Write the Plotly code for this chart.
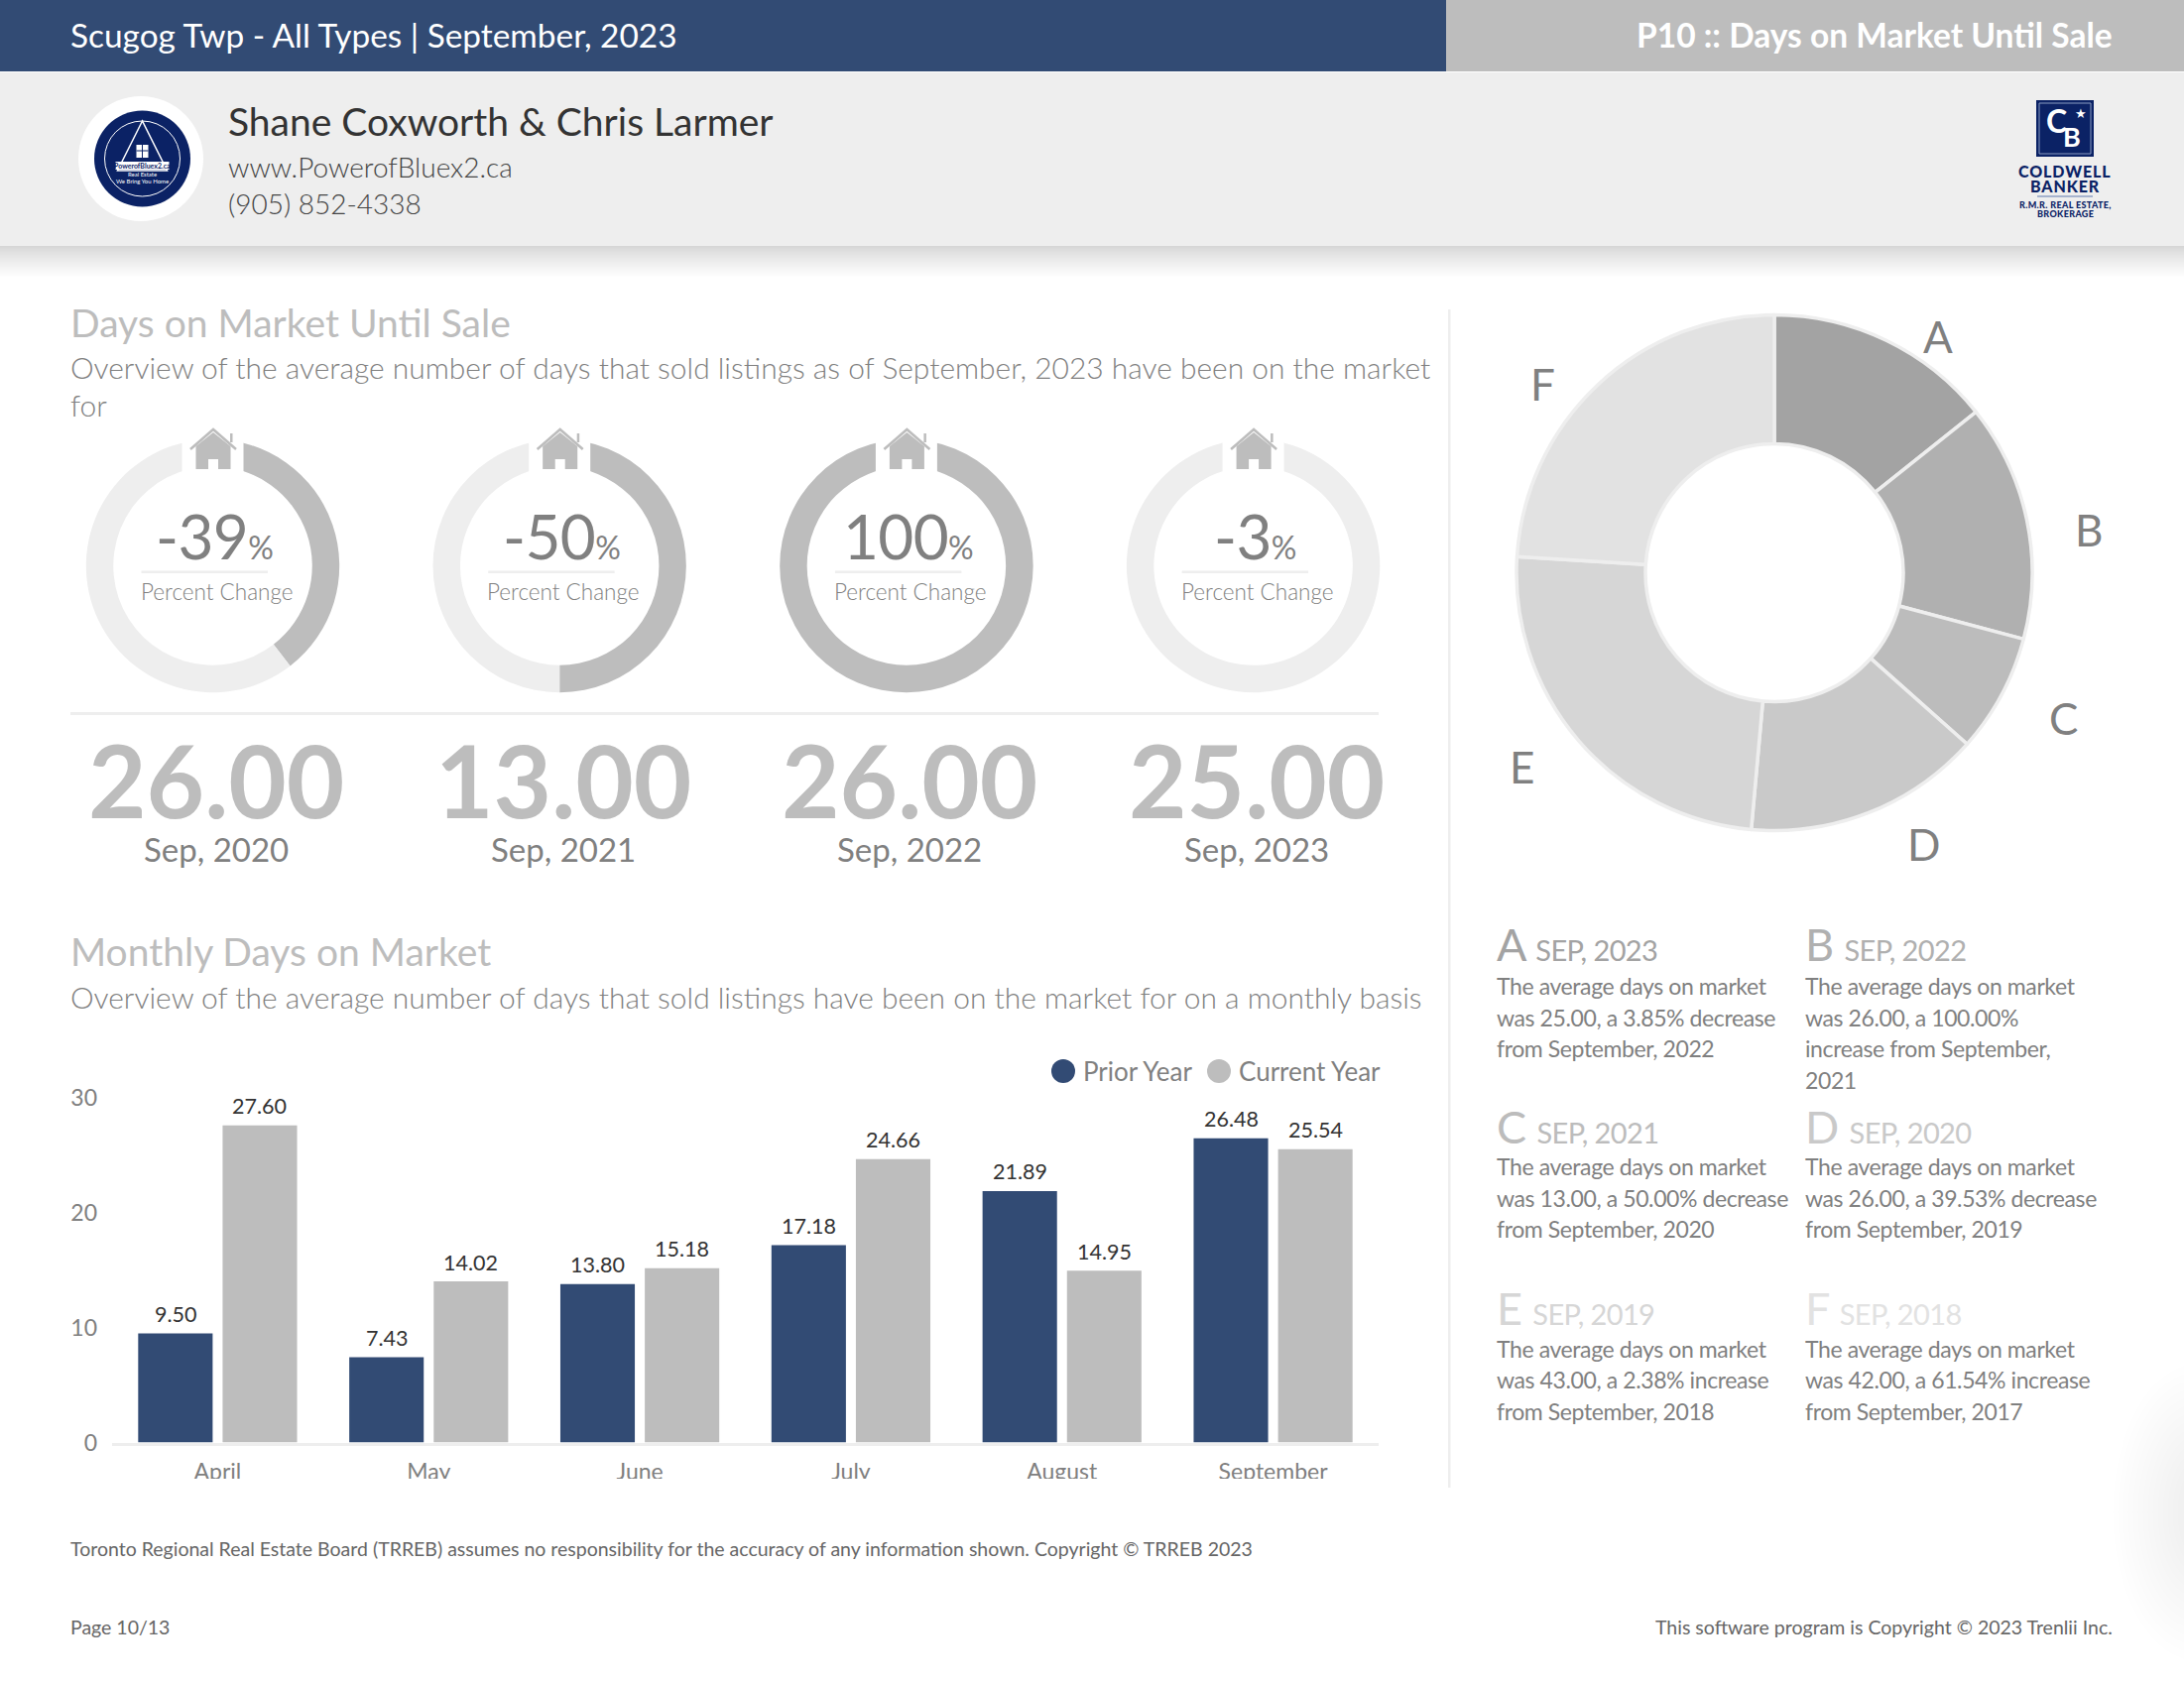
import plotly.graph_objects as go

W, H = 2202, 1698
FONT = "Lato"
NAVY = "#324b74"
GREY = "#bdbdbd"
LIGHT = "#eeeeee"
TXT = "#808080"

months = ["April", "May", "June", "July", "August", "September"]
prior_year = [9.50, 7.43, 13.80, 17.18, 21.89, 26.48]
current_year = [27.60, 14.02, 15.18, 24.66, 14.95, 25.54]
y_ticks = [0, 10, 20, 30]

gauge_pct = [39.53, 50.00, 100.00, 3.85]
gauge_labels = ["-39", "-50", "100", "-3"]
big_values = ["26.00", "13.00", "26.00", "25.00"]
big_periods = ["Sep, 2020", "Sep, 2021", "Sep, 2022", "Sep, 2023"]

donut_labels = ["A", "B", "C", "D", "E", "F"]
donut_values = [25, 26, 13, 26, 43, 42]
donut_colors = ["#a3a3a3", "#b0b0b0", "#bcbcbc", "#c9c9c9", "#d6d6d6", "#e2e2e2"]
donut_periods = ["SEP, 2023", "SEP, 2022", "SEP, 2021", "SEP, 2020", "SEP, 2019", "SEP, 2018"]
donut_notes = [
    ["The average days on market", "was 25.00, a 3.85% decrease", "from September, 2022"],
    ["The average days on market", "was 26.00, a 100.00%", "increase from September,", "2021"],
    ["The average days on market", "was 13.00, a 50.00% decrease", "from September, 2020"],
    ["The average days on market", "was 26.00, a 39.53% decrease", "from September, 2019"],
    ["The average days on market", "was 43.00, a 2.38% increase", "from September, 2018"],
    ["The average days on market", "was 42.00, a 61.54% increase", "from September, 2017"],
]


def px(x):
    return x / W


def py(y):
    return 1 - y / H


annotations = []
shapes = []


def text(x, y, s, size, color=TXT, anchor="left", weight=400, ls=None):
    if ls is not None:
        s = f'<span style="letter-spacing:{ls}px">{s}</span>'
    annotations.append(dict(
        x=px(x), y=py(y), xref="paper", yref="paper", text=s, showarrow=False,
        xanchor=anchor, yanchor="middle", align=anchor,
        font=dict(family=FONT, size=size, color=color, weight=weight),
        borderpad=0, borderwidth=0,
    ))


def rect(x0, y0, x1, y1, fill, layer="above"):
    shapes.append(dict(
        type="rect", xref="paper", yref="paper",
        x0=px(x0), x1=px(x1), y0=py(y0), y1=py(y1),
        fillcolor=fill, line=dict(width=0), layer=layer,
    ))


def circle(cx, cy, r, fill, line_color=None, line_w=0, layer="above", ry=None):
    ry = ry or r
    shapes.append(dict(
        type="circle", xref="paper", yref="paper",
        x0=px(cx - r), x1=px(cx + r), y0=py(cy - ry), y1=py(cy + ry),
        fillcolor=fill, line=dict(width=line_w, color=line_color or fill), layer=layer,
    ))


def poly(points, fill=None, line_color=None, line_w=0, closed=True):
    d = "M" + " L".join(f"{px(x):.5f},{py(y):.5f}" for x, y in points) + (" Z" if closed else "")
    shapes.append(dict(
        type="path", xref="paper", yref="paper", path=d, layer="above",
        fillcolor=fill if fill else "rgba(0,0,0,0)",
        line=dict(width=line_w, color=line_color or "rgba(0,0,0,0)"),
    ))


# ---------- faint glow at the right edge ----------
for i in range(14):
    circle(2215, 1525, 85 - i * 5, "rgba(0,0,0,0.005)", ry=150 - i * 8, layer="below")

# ---------- header ----------
rect(0, 0, 1458, 72, NAVY)
rect(1458, 0, W, 72, GREY)
rect(0, 73, W, 248, LIGHT)
for i in range(32):
    g = 214 + int(41 * (i / 31) ** 0.8)
    rect(0, 248 + i, W, 249 + i, f"rgb({g},{g},{g})")
text(71, 34.5, "Scugog Twp - All Types | September, 2023", 33.4, "#ffffff")
text(2130, 34.5, "P10 :: Days on Market Until Sale", 33.5, "#ffffff", anchor="right", weight=700)
text(230, 122, "Shane Coxworth &amp; Chris Larmer", 39, "#333333")
text(230, 168, "www.PowerofBluex2.ca", 28, "#444444", weight=300)
text(230, 205, "(905) 852-4338", 28, "#444444", weight=300)

# round logo
LOGO = "#0b2265"
lx0 = 143.5
circle(142, 160, 63, "#ffffff")
circle(lx0, 160, 48.5, LOGO)
circle(lx0, 160, 38, LOGO, "#ffffff", 1)
poly([(lx0, 122), (lx0 - 25, 172), (lx0 + 25, 172)], LOGO, "#ffffff", 1.5)
rect(lx0 - 6, 146, lx0 + 6, 159, "#ffffff")
poly([(lx0, 146), (lx0, 159)], None, LOGO, 1, False)
poly([(lx0 - 6, 152), (lx0 + 6, 152)], None, LOGO, 1, False)
rect(lx0 - 27, 163, lx0 + 27, 171, "#ffffff")
text(lx0, 167, "PowerofBluex2.ca", 7, LOGO, anchor="center", weight=700)
text(lx0, 175.5, "Real Estate", 6, "#ffffff", anchor="center")
text(lx0, 183, "We Bring You Home", 6, "#ffffff", anchor="center")

# brokerage logo
CB = "#0b2265"
rect(2053, 101, 2111, 158, CB)
shapes.append(dict(type="rect", xref="paper", yref="paper", layer="above",
                   x0=px(2056), x1=px(2108), y0=py(104), y1=py(155),
                   fillcolor="rgba(0,0,0,0)", line=dict(width=1, color="#8a9bc2")))
text(2073, 121, "C", 32, "#ffffff", anchor="center", weight=700)
text(2089, 137, "B", 27, "#ffffff", anchor="center", weight=700)
text(2098, 114, "★", 13, "#ffffff", anchor="center")
text(2082, 172, "COLDWELL", 16, CB, anchor="center", weight=900, ls=0.9)
text(2082, 187, "BANKER", 16, CB, anchor="center", weight=900, ls=0.9)
poly([(2054, 198), (2110, 198)], None, "#5f78ad", 1, False)
text(2082, 207, "R.M.R. REAL ESTATE,", 9, CB, anchor="center", weight=900, ls=0.35)
text(2082, 215.5, "BROKERAGE", 9, CB, anchor="center", weight=900, ls=0.35)

# ---------- section titles ----------
text(71, 325, "Days on Market Until Sale", 39, GREY)
text(71, 370, "Overview of the average number of days that sold listings as of September, 2023 have been on the market", 29.95, TXT, weight=300)
text(71, 408, "for", 29.95, TXT, weight=300)
text(71, 959, "Monthly Days on Market", 39, GREY)
text(71, 1005, "Overview of the average number of days that sold listings have been on the market for on a monthly basis", 29.95, TXT, weight=300)

rect(1460, 312, 1462.5, 1500, LIGHT)
rect(71, 718, 1390, 721, LIGHT)

# ---------- gauges ----------
traces = []
for i, (pct, lab, val, per) in enumerate(zip(gauge_pct, gauge_labels, big_values, big_periods)):
    cx, cy, r = 214.5 + 349.7 * i, 570.5, 127.7
    traces.append(go.Pie(
        values=[pct, 100 - pct], sort=False, direction="clockwise", rotation=0,
        hole=0.785, textinfo="none", hoverinfo="skip", showlegend=False,
        marker=dict(colors=[GREY, LIGHT], line=dict(width=0)),
        domain=dict(x=[px(cx - r), px(cx + r)], y=[py(cy + r), py(cy - r)]),
    ))
    rect(cx - 31, 425, cx + 31, 478, "#ffffff")
    # house icon
    hx = cx + 0.5
    poly([(hx - 17.5, 473), (hx - 17.5, 450), (hx, 436), (hx + 17.5, 450), (hx + 17.5, 473),
          (hx + 5, 473), (hx + 5, 463), (hx - 5, 463), (hx - 5, 473)], GREY)
    poly([(hx - 23, 453), (hx, 433), (hx + 23, 453)], None, GREY, 2.5, False)
    rect(hx + 17, 437, hx + 19.5, 446, GREY)
    text(cx + 1.5, 540, f'{lab}<span style="font-size:32px">%</span>', 62, TXT, anchor="center", weight=400, ls=-0.6)
    rect(cx - 72, 575.5, cx + 55.5, 578, LIGHT)
    text(cx + 3.5, 596, "Percent Change", 22.5, TXT, anchor="center", weight=300)
    text(218 + 349.7 * i, 786, val, 101, GREY, anchor="center", weight=700)
    text(218 + 349.7 * i, 856, per, 33, TXT, anchor="center")

# ---------- big donut ----------
dcx, dcy, dr = 1789, 577.5, 260
traces.append(go.Pie(
    labels=donut_labels, values=donut_values, sort=False, direction="clockwise", rotation=0,
    hole=0.5, textinfo="none", hoverinfo="skip", showlegend=False,
    marker=dict(colors=donut_colors, line=dict(width=3.5, color=LIGHT)),
    domain=dict(x=[px(dcx - dr), px(dcx + dr)], y=[py(dcy + dr), py(dcy - dr)]),
))
label_at = [(1954, 339), (2106, 534), (2080, 724), (1939, 851), (1534, 773), (1555, 387)]
for lab, (lx, ly) in zip(donut_labels, label_at):
    text(lx, ly, lab, 44, TXT, anchor="center")

# ---------- legend blocks ----------
head_y = [955, 955, 1136, 1136, 1320, 1320]
head_shift = [0, 0, 3, 3, 2, 2]
line_shift = [0, 0, 1, 1, 0.5, 0.5]
col_x = [1509, 1819.5]
for i, (lab, per, note, col) in enumerate(zip(donut_labels, donut_periods, donut_notes, donut_colors)):
    x = col_x[i % 2]
    text(x, head_y[i] - 3 + head_shift[i], f'{lab} <span style="font-size:29px">{per}</span>', 45, col, ls=-0.6)
    for j, line in enumerate(note):
        text(x, head_y[i] + 39 + line_shift[i] + j * 31.6, line, 23, TXT, ls=-0.4)

# ---------- bars ----------
traces.append(go.Bar(
    x=months, y=prior_year, name="Prior Year", marker=dict(color=NAVY, line=dict(width=0)),
    hoverinfo="skip", showlegend=False,
))
traces.append(go.Bar(
    x=months, y=current_year, name="Current Year", marker=dict(color=GREY, line=dict(width=0)),
    hoverinfo="skip", showlegend=False,
))
for series, shift in ((prior_year, -42.5), (current_year, 42.5)):
    for month, value in zip(months, series):
        annotations.append(dict(
            x=month, y=value, xref="x", yref="y", text=f"{value:.2f}", showarrow=False,
            xanchor="center", yanchor="middle", xshift=shift, yshift=19.5, borderpad=0,
            font=dict(family=FONT, size=21.5, color="#333333"),
        ))
circle(1072, 1080, 12, NAVY)
text(1092, 1080, "Prior Year", 26, TXT)
circle(1229, 1080, 12, GREY)
text(1249, 1080, "Current Year", 26, TXT)

# clip of the axis labels, as in the reference
rect(100, 1491, 1400, 1500, "#ffffff")

# ---------- footer ----------
text(71, 1561, "Toronto Regional Real Estate Board (TRREB) assumes no responsibility for the accuracy of any information shown. Copyright © TRREB 2023", 19.5, "#666666")
text(71, 1640, "Page 10/13", 19.5, "#666666")
text(2130, 1640, "This software program is Copyright © 2023 Trenlii Inc.", 19.5, "#666666", anchor="right")

fig = go.Figure(traces)
fig.update_layout(
    width=W, height=H, margin=dict(l=0, r=0, t=0, b=0, pad=0), autosize=False,
    paper_bgcolor="#ffffff", plot_bgcolor="rgba(0,0,0,0)",
    barmode="group", bargap=0.2, bargroupgap=0.118,
    annotations=annotations, shapes=shapes,
    font=dict(family=FONT),
    xaxis=dict(domain=[px(113), px(1390)], anchor="y", showgrid=False, zeroline=False, automargin=False,
               showline=True, linecolor=LIGHT, linewidth=3, ticks="", ticklabelstandoff=7,
               tickfont=dict(family=FONT, size=23, color=TXT)),
    yaxis=dict(domain=[py(1454.5), py(1107)], anchor="x", range=[0, 30], tickvals=y_ticks, automargin=False,
               showgrid=False, zeroline=False, showline=False, ticks="", ticklabelstandoff=14,
               tickfont=dict(family=FONT, size=23, color=TXT)),
)
fig.write_html("out.html", config={"displayModeBar": False}, post_script="document.body.style.margin='0';")
